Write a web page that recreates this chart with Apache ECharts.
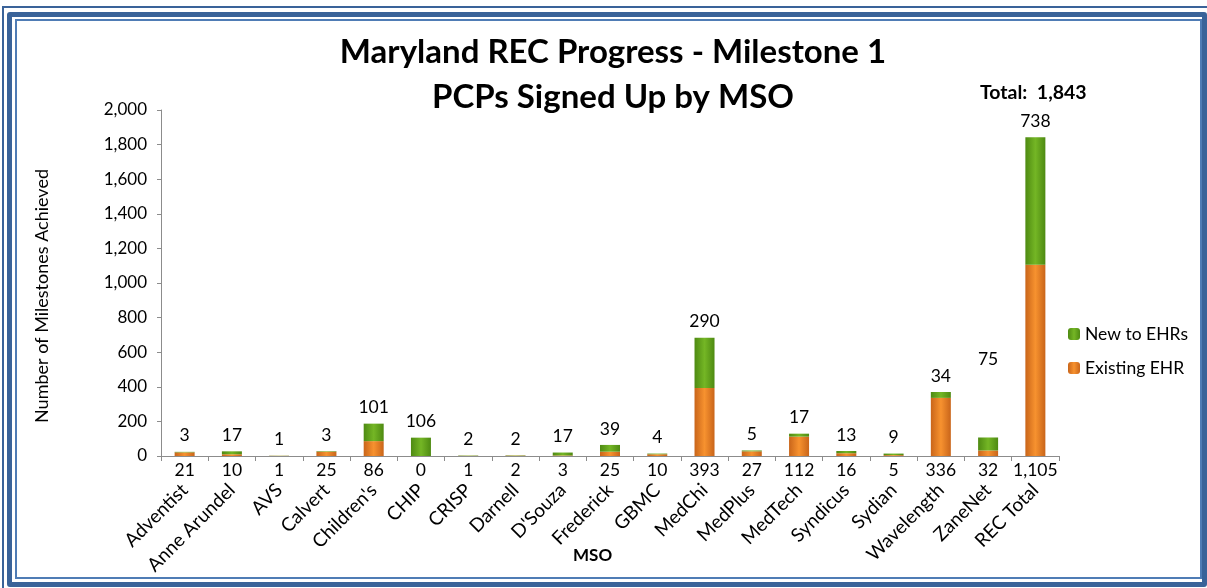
<!DOCTYPE html>
<html>
<head>
<meta charset="utf-8">
<script src="https://cdn.jsdelivr.net/npm/echarts@6/dist/echarts.min.js"></script>
<style>
  html, body { margin: 0; padding: 0; background: #fff; }
  #wrap { position: relative; width: 1207px; height: 588px; overflow: hidden; }
  .f { position: absolute; box-sizing: border-box; }
  #f1 { left: 2px; top: 6px; width: 1205px; height: 582px; border-left: 2px solid #3a6399; border-top: 2px solid #3a6399; }
  #f2 { left: 7px; top: 12px; width: 1200px; height: 575px; border: 5px solid #3a6399; border-radius: 3px; }
  #f3 { left: 15px; top: 19px; width: 1187px; height: 560px; border: 2px solid #4f7cb5; }
  #chart { position: absolute; left: 0; top: 0; width: 1207px; height: 588px; }
</style>
</head>
<body>
<div id="wrap">
  <div class="f" id="f1"></div>
  <div class="f" id="f2"></div>
  <div class="f" id="f3"></div>
  <div id="chart"></div>
</div>
<script>
const categories = ['Adventist','Anne Arundel','AVS','Calvert',"Children's",'CHIP','CRISP','Darnell',"D'Souza",'Frederick','GBMC','MedChi','MedPlus','MedTech','Syndicus','Sydian','Wavelength','ZaneNet','REC Total'];
const existingEHR = [21,10,1,25,86,0,1,2,3,25,10,393,27,112,16,5,336,32,1105];
const newToEHRs = [3,17,1,3,101,106,2,2,17,39,4,290,5,17,13,9,34,75,738];
const yTicks = [0,200,400,600,800,1000,1200,1400,1600,1800,2000];
const totalText = 'Total:  1,843';
const yAxisTitle = 'Number of Milestones Achieved';
const xAxisTitle = 'MSO';

const FONT = 'Lato, "Open Sans", sans-serif';
const fmt = v => Number(v).toLocaleString('en-US');

const chart = echarts.init(document.getElementById('chart'), null, { renderer: 'canvas' });

const orangeGrad = new echarts.graphic.LinearGradient(0, 0, 1, 0, [
  { offset: 0, color: '#c9651a' },
  { offset: 0.5, color: '#f7922f' },
  { offset: 1, color: '#c9651a' }
]);
const greenGrad = new echarts.graphic.LinearGradient(0, 0, 1, 0, [
  { offset: 0, color: '#4e8a12' },
  { offset: 0.5, color: '#74b625' },
  { offset: 1, color: '#4e8a12' }
]);

const newData = newToEHRs.map((v, i) => categories[i] === 'ZaneNet'
  ? { value: v, label: { offset: [0, -62] } }
  : v);

chart.setOption({
  animation: false,
  backgroundColor: 'transparent',
  textStyle: { fontFamily: FONT },
  title: {
    text: 'Maryland REC Progress - Milestone 1\nPCPs Signed Up by MSO',
    left: 608, top: 25, textAlign: 'center',
    textStyle: { fontSize: 33, fontWeight: 'bold', color: '#000', lineHeight: 45, fontFamily: FONT }
  },
  graphic: [
    { type: 'text', left: 980, top: 83, style: { text: totalText, font: 'bold 19.5px ' + FONT, fill: '#000' } },
    { type: 'text', left: 573, top: 547, style: { text: xAxisTitle, font: 'bold 17px ' + FONT, fill: '#000' } },
    { type: 'text', x: 42, y: 296, rotation: Math.PI / 2,
      style: { text: yAxisTitle, font: '18px ' + FONT, fill: '#000', textAlign: 'center', textVerticalAlign: 'middle' } }
  ],
  legend: {
    data: ['New to EHRs', 'Existing EHR'],
    orient: 'vertical',
    left: 1063, top: 320,
    itemWidth: 12, itemHeight: 12, itemGap: 16,
    textStyle: { fontSize: 17.5, color: '#000', fontFamily: FONT }
  },
  grid: { left: 161, right: 148, top: 110, bottom: 132, containLabel: false },
  xAxis: {
    type: 'category',
    data: categories,
    axisLine: { lineStyle: { color: '#8c8c8c' } },
    axisTick: { show: true, length: 5, lineStyle: { color: '#8c8c8c' } },
    axisLabel: { rotate: 45, margin: 31, fontSize: 19, color: '#000', interval: 0, fontFamily: FONT }
  },
  yAxis: {
    type: 'value',
    min: yTicks[0], max: yTicks[yTicks.length - 1], interval: yTicks[1] - yTicks[0],
    axisLine: { show: true, lineStyle: { color: '#8c8c8c' } },
    axisTick: { show: true, length: 4, lineStyle: { color: '#8c8c8c' } },
    splitLine: { show: false },
    axisLabel: { fontSize: 17, color: '#000', margin: 14, formatter: fmt, fontFamily: FONT }
  },
  series: [
    {
      name: 'Existing EHR', type: 'bar', stack: 'total', barWidth: 20,
      data: existingEHR,
      itemStyle: { color: orangeGrad },
      label: { show: true, position: 'bottom', distance: 5, fontSize: 17.5, color: '#000', formatter: p => fmt(p.value), fontFamily: FONT }
    },
    {
      name: 'New to EHRs', type: 'bar', stack: 'total', barWidth: 20,
      data: newData,
      itemStyle: { color: greenGrad },
      label: { show: true, position: 'top', distance: 7, fontSize: 17.5, color: '#000', formatter: p => fmt(p.value), fontFamily: FONT }
    }
  ]
});
</script>
</body>
</html>
